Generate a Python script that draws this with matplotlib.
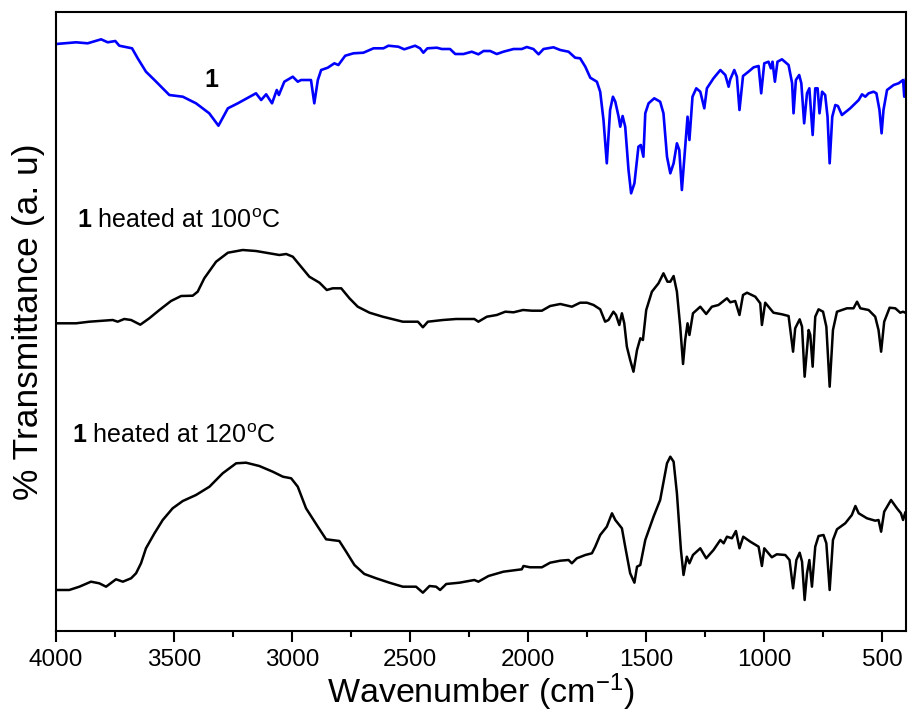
import matplotlib
matplotlib.use("Agg")
import matplotlib.pyplot as plt
from matplotlib.ticker import MultipleLocator

plt.rcParams['font.family'] = ['Liberation Sans', 'DejaVu Sans']
plt.rcParams['mathtext.fontset'] = 'custom'
plt.rcParams['mathtext.rm'] = 'Liberation Sans'
plt.rcParams['mathtext.it'] = 'Liberation Sans:italic'
plt.rcParams['mathtext.bf'] = 'Liberation Sans:bold'

# ---- data (wavenumber in cm^-1, transmittance in arbitrary units incl. offset) ----
wn_1 = [4000, 3915, 3866, 3809, 3781, 3749, 3732, 3678, 3654, 3619, 3583, 3534, 3520, 3463,
        3407, 3351, 3312, 3272, 3230, 3153, 3131, 3110, 3085, 3065, 3056, 3033, 2997, 2976,
        2962, 2920, 2906, 2891, 2877, 2849, 2821, 2804, 2775, 2740, 2698, 2655, 2613, 2592,
        2550, 2525, 2479, 2458, 2444, 2427, 2387, 2366, 2331, 2309, 2274, 2239, 2211, 2189,
        2161, 2133, 2105, 2062, 2027, 2006, 1978, 1956, 1935, 1893, 1864, 1829, 1801, 1780,
        1758, 1737, 1709, 1695, 1681, 1667, 1653, 1641, 1631, 1617, 1610, 1600, 1589, 1575,
        1564, 1550, 1533, 1523, 1512, 1504, 1490, 1466, 1441, 1427, 1412, 1398, 1384, 1370,
        1360, 1349, 1335, 1325, 1317, 1304, 1288, 1271, 1254, 1243, 1215, 1186, 1165, 1151,
        1144, 1127, 1116, 1105, 1090, 1067, 1045, 1024, 1013, 1000, 982, 972, 965, 955, 944,
        925, 897, 882, 876, 866, 852, 843, 831, 819, 809, 795, 784, 774, 766, 755, 742, 732,
        723, 712, 699, 688, 671, 636, 600, 586, 572, 558, 537, 525, 512, 503, 495, 480, 452,
        431, 412, 407, 400]
t_1 = [587, 588.7, 587.7, 591.7, 588.7, 590, 585.3, 582.7, 572.7, 559.3, 551, 539.3, 536, 534.3,
       527.7, 517.7, 505.3, 522.7, 527.7, 537.7, 531, 536.7, 527.7, 541, 536, 549.3, 554.3, 549.3,
       551, 551, 527.7, 551, 561, 563.3, 567.7, 566, 575.3, 577.7, 578.3, 582.7, 582.7, 585.3,
       584.3, 581.7, 585.3, 582.7, 578.3, 582.7, 583.3, 582, 582, 577, 577, 579.3, 576.7, 580,
       580, 577, 579.3, 582, 582, 584, 582, 576.7, 582, 583.7, 581, 579.3, 573.3, 572.7,
       564.3, 553.3, 549.3, 539.3, 511, 467.7, 521, 534.3, 529.3, 514.3, 504.3, 515, 504.3, 461,
       437.7, 447.7, 484.3, 486, 474.3, 517.7, 527.7, 532.7, 529.3, 517.7, 474.3, 457.7, 467.7, 487.7,
       481, 441, 484.3, 514.3, 491, 534.3, 542.7, 539.3, 522.7, 542.7, 552.7, 561, 556, 544.3,
       551.7, 561, 554.3, 521, 555, 559.3, 563.7, 565, 537.7, 567.7, 569.3, 562.7, 569.3, 549.3, 569.3,
       571.7, 566, 547.7, 517.7, 551, 556, 547.7, 507.7, 537.7, 542.7, 496, 542.7, 542.7, 517.7, 539.3, 536, 514.3,
       467.7, 514.3, 526, 525, 516, 522.7, 531, 536.7, 534.3, 537.7, 539.3, 537.7, 521, 497.7, 521, 541, 546,
       547.7, 551, 534.3, 551.7]

wn_100 = [4000, 3915, 3859, 3760, 3739, 3711, 3682, 3643, 3605, 3562, 3513, 3470, 3421, 3400,
          3372, 3322, 3272, 3209, 3153, 3096, 3054, 3025, 2997, 2962, 2927, 2884, 2853, 2828,
          2792, 2757, 2722, 2672, 2616, 2531, 2467, 2446, 2425, 2361, 2305, 2228, 2211, 2175,
          2133, 2097, 2062, 2022, 1984, 1942, 1907, 1864, 1815, 1780, 1751, 1723, 1695, 1674,
          1660, 1639, 1628, 1614, 1603, 1593, 1582, 1568, 1554, 1539, 1525, 1514, 1500, 1476,
          1448, 1427, 1410, 1398, 1384, 1370, 1356, 1344, 1335, 1325, 1317, 1302, 1271, 1246,
          1222, 1194, 1158, 1144, 1123, 1105, 1090, 1073, 1038, 1017, 1010, 996, 982, 961, 925,
          897, 878, 869, 850, 840, 829, 812, 805, 795, 784, 770, 751, 737, 723, 709, 692, 650,
          622, 607, 593, 558, 530, 516, 505, 492, 469, 445, 424, 412, 403]
t_100 = [307.7, 307.7, 309.3, 311, 309.3, 312, 311, 306.3, 312.7, 321, 330, 335, 335.3, 339.3,
         352.7, 369.3, 378.3, 381, 380, 377.7, 376, 377, 374.3, 364.3, 354.3, 348.3, 341, 342.7,
         342.7, 332.7, 324.3, 318.3, 314.3, 309.3, 309.3, 303.7, 309.3, 311, 312, 312, 309.3, 314.3,
         316, 319.3, 318.7, 321, 320.3, 320.3, 325, 327, 324.3, 328.3, 328.3, 326, 321.7, 309.3,
         311, 319.3, 316, 306, 317.7, 307.7, 284.3, 271, 259.3, 281, 292.7, 291, 321, 339.3,
         347.7, 357.7, 349.3, 349.3, 355, 339.3, 304.3, 267, 291, 307.7, 296, 317.7, 324.3, 317,
         324.3, 326, 332.7, 328.7, 330, 316, 336, 338.3, 334.3, 327.7, 306, 328.3, 324.3, 318.3, 316.7,
         315, 279.3, 302.7, 311.7, 304.3, 254.3, 301, 296, 264.3, 314.3, 321.7, 319.3, 304.3, 244.3, 301, 319.3, 322.7,
         322.7, 329.3, 322.7, 321, 314.3, 301, 279.3, 309.3, 323.3, 322.7, 318.3, 319.3, 318.3]

wn_120 = [4000, 3944, 3901, 3852, 3817, 3788, 3746, 3717, 3682, 3661, 3640, 3619, 3583, 3548,
          3506, 3463, 3407, 3350, 3294, 3237, 3195, 3139, 3082, 3039, 3004, 2976, 2941, 2891,
          2856, 2800, 2771, 2736, 2694, 2644, 2588, 2531, 2475, 2446, 2418, 2390, 2373, 2347,
          2291, 2228, 2211, 2168, 2105, 2027, 2020, 1992, 1942, 1907, 1864, 1829, 1815, 1794,
          1758, 1730, 1716, 1695, 1667, 1645, 1631, 1603, 1589, 1568, 1550, 1539, 1525, 1504,
          1469, 1441, 1412, 1398, 1384, 1370, 1353, 1342, 1328, 1317, 1302, 1271, 1246, 1215,
          1186, 1172, 1158, 1137, 1120, 1105, 1089, 1059, 1024, 1010, 1000, 968, 947, 911, 893,
          878, 864, 850, 840, 829, 819, 809, 798, 784, 770, 749, 737, 723, 709, 692, 657, 629,
          614, 600, 565, 530, 516, 505, 492, 463, 438, 421, 412, 403]
t_120 = [41, 41, 44.3, 49.3, 47.7, 44.3, 51.7, 49.3, 52.7, 57.7, 67.7, 82.7, 97.7, 111,
         122.7, 130, 136, 144.3, 157.7, 167.7, 168.3, 165, 159.3, 154.3, 152.7, 144.3, 122.7, 104.3,
         91.7, 90, 79.3, 66, 57, 52.7, 48.3, 44.3, 44.3, 38.3, 45, 44.3, 41, 47,
         48.3, 51, 49.3, 55, 59.3, 61.7, 65, 63.7, 63.7, 68.3, 70.3, 71, 67.7, 72.7,
         76, 77.7, 84.3, 96, 104.3, 117.7, 111, 102.7, 84.3, 57.7, 48.3, 64.3, 66, 91,
         114.3, 131, 167.7, 174.3, 169.3, 137.7, 81, 56, 74.3, 67.7, 76, 82.7, 72.7, 81,
         91, 87.7, 94.3, 92.7, 100, 82.7, 94.3, 89.3, 84.3, 65, 82.7, 73.7, 76.7, 76, 71,
         42.7, 71, 78.3, 69.3, 31, 57.7, 71, 44.3, 84.3, 95, 96, 87.7, 41, 91, 101.7, 107.7, 116,
         125, 117.7, 112.7, 110.3, 111, 99.3, 119.3, 131, 122.7, 117.7, 111, 118.3]

x_ticks = [4000, 3500, 3000, 2500, 2000, 1500, 1000, 500]

fig = plt.figure(figsize=(9.08, 7.15), dpi=100)
ax = fig.add_axes([0.0617, 0.1175, 0.936, 0.8657])

ax.plot(wn_1, t_1, color='#0000FF', lw=1.9, solid_joinstyle='round')
ax.plot(wn_100, t_100, color='black', lw=1.8, solid_joinstyle='round')
ax.plot(wn_120, t_120, color='black', lw=1.8, solid_joinstyle='round')

ax.set_xlim(4000, 400)
ax.set_ylim(0, 619)
ax.set_xticks(x_ticks)
ax.set_xticklabels([str(v) for v in x_ticks])
ax.xaxis.set_minor_locator(MultipleLocator(250))
ax.set_yticks([])
ax.tick_params(axis='x', which='major', direction='out', length=8, width=1.5,
               labelsize=17.5, pad=5, top=False)
ax.tick_params(axis='x', which='minor', direction='out', length=4.5, width=1.5, top=False)
for s in ax.spines.values():
    s.set_linewidth(1.5)

ax.set_xlabel(r'Wavenumber (cm$^{\mathrm{-1}}$)', fontsize=24.5, labelpad=0)
ax.set_ylabel('% Transmittance (a. u)', fontsize=25.5, labelpad=8)

ax.text(3343, 544, '1', fontsize=18, fontweight='bold', ha='center', va='baseline')
ax.text(3911, 403, r'$\mathbf{1}$ heated at 100$^{\mathrm{o}}$C', fontsize=18,
        ha='left', va='baseline')
ax.text(3932, 188, r'$\mathbf{1}$ heated at 120$^{\mathrm{o}}$C', fontsize=18,
        ha='left', va='baseline')

fig.savefig('out.png', dpi=100)
